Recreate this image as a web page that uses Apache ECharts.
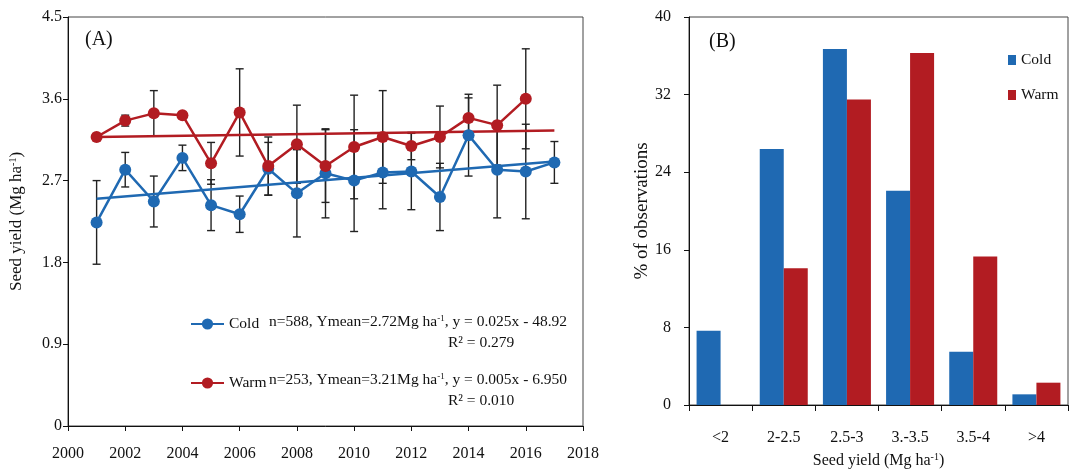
<!DOCTYPE html>
<html>
<head>
<meta charset="utf-8">
<script src="https://cdn.jsdelivr.net/npm/echarts@6/dist/echarts.min.js"></script>
<style>
html,body{margin:0;padding:0;background:#fff;}
#c{width:1073px;height:471px;}
</style>
</head>
<body>
<div id="c"></div>
<script>
// ---- Panel A data ----
const years = [2001,2002,2003,2004,2005,2006,2007,2008,2009,2010,2011,2012,2013,2014,2015,2016,2017];
const coldMean = [2.24,2.82,2.47,2.95,2.43,2.33,2.83,2.56,2.78,2.70,2.79,2.80,2.52,3.20,2.82,2.80,2.90];
const coldErr  = [0.46,0.19,0.28,0.14,0.28,0.20,0.29,0.48,0.49,0.56,0.40,0.42,0.37,0.45,0.53,0.52,0.23];
const warmYears = [2001,2002,2003,2004,2005,2006,2007,2008,2009,2010,2011,2012,2013,2014,2015,2016];
const warmMean = [3.18,3.36,3.44,3.42,2.89,3.45,2.86,3.10,2.86,3.07,3.18,3.08,3.18,3.39,3.31,3.60];
const warmErr  = [0.02,0.06,0.25,0.02,0.23,0.48,0.32,0.43,0.40,0.57,0.51,0.15,0.34,0.22,0.44,0.55];
const coldTrendX = [2001,2017];
const coldTrendY = [2.50,2.91];
const warmTrendX = [2001,2017];
const warmTrendY = [3.18,3.25];
const yTicksA = [0,0.9,1.8,2.7,3.6,4.5];
// ---- Panel B data ----
const binLabels = ['<2','2-2.5','2.5-3','3.-3.5','3.5-4','>4'];
const coldPct = [7.65,26.4,36.7,22.1,5.5,1.1];
const warmPct = [0,14.1,31.5,36.3,15.3,2.3];

const BLUE = '#1F69B2';
const RED = '#B21C22';
const FONT = 'Liberation Serif';

const chart = echarts.init(document.getElementById('c'));

function errItem(){
  return function(params, api){
    const x = api.value(0), y = api.value(1), e = api.value(2);
    const t = api.coord([x, y+e]);
    const b = api.coord([x, y-e]);
    const w = 4;
    const st = {stroke:'#222', lineWidth:1.4};
    return {type:'group', children:[
      {type:'line', shape:{x1:t[0],y1:t[1],x2:b[0],y2:b[1]}, style:st},
      {type:'line', shape:{x1:t[0]-w,y1:t[1],x2:t[0]+w,y2:t[1]}, style:st},
      {type:'line', shape:{x1:b[0]-w,y1:b[1],x2:b[0]+w,y2:b[1]}, style:st}
    ]};
  };
}

const supRich = {
  sup:{fontSize:10, verticalAlign:'top', padding:[0,0,7,0], fontFamily:FONT, color:'#111'}
};

const axisCommon = {
  axisLine:{show:true, lineStyle:{color:'#111', width:1}},
  axisTick:{show:true, inside:false, length:5, lineStyle:{color:'#111'}},
  splitLine:{show:false},
  axisLabel:{fontFamily:FONT, fontSize:16, color:'#111'}
};

const option = {
  animation:false,
  textStyle:{fontFamily:FONT},
  grid:[
    {left:68, top:17, width:515, height:409, show:true, borderColor:'#444', borderWidth:1,
     backgroundColor:'transparent', containLabel:false, outerBoundsMode:'none'},
    {left:689, top:17, width:379, height:388, show:true, borderColor:'#444', borderWidth:1,
     backgroundColor:'transparent', containLabel:false, outerBoundsMode:'none'}
  ],
  xAxis:[
    Object.assign({}, axisCommon, {
      type:'value', gridIndex:0, min:2000, max:2018, interval:2,
      axisLabel:Object.assign({}, axisCommon.axisLabel, {margin:20, formatter:v=>String(v)})
    }),
    Object.assign({}, axisCommon, {
      type:'category', gridIndex:1, data:binLabels,
      axisTick:{show:true, length:6, lineStyle:{color:'#111'}},
      axisLabel:Object.assign({}, axisCommon.axisLabel, {margin:25}),
      name:'Seed yield (Mg ha{sup|-1})', nameLocation:'middle', nameGap:47,
      nameTextStyle:{fontFamily:FONT, fontSize:16, color:'#111', rich:supRich}
    })
  ],
  yAxis:[
    Object.assign({}, axisCommon, {
      type:'value', gridIndex:0, min:0, max:4.5, interval:0.9,
      axisLabel:Object.assign({}, axisCommon.axisLabel, {margin:6, formatter:v=>{
        const s = yTicksA.find(t=>Math.abs(t-v)<1e-6); return s===undefined? '' : String(s);}}),
      name:'Seed yield (Mg ha{sup|-1})', nameLocation:'middle', nameGap:43,
      nameTextStyle:{fontFamily:FONT, fontSize:17, color:'#111', rich:supRich}
    }),
    Object.assign({}, axisCommon, {
      type:'value', gridIndex:1, min:0, max:40, interval:8,
      axisLabel:Object.assign({}, axisCommon.axisLabel, {margin:18}),
      name:'% of observations', nameLocation:'middle', nameGap:35,
      nameTextStyle:{fontFamily:FONT, fontSize:19, color:'#111'}
    })
  ],
  legend:[
    {
      data:['Cold','Warm'], orient:'vertical', left:190, top:316, padding:0,
      itemWidth:33, itemHeight:14, itemGap:43,
      textStyle:{fontFamily:FONT, fontSize:15.5, color:'#111'},
      selectedMode:false
    },
    {
      data:['Cold (B)','Warm (B)'], orient:'vertical', left:1008, top:52, padding:0,
      itemWidth:8, itemHeight:10, itemGap:19, icon:'rect',
      formatter:n=>n.replace(' (B)',''),
      textStyle:{fontFamily:FONT, fontSize:15.5, color:'#111'},
      selectedMode:false
    }
  ],
  graphic:[
    {type:'text', left:85, top:30, style:{text:'(A)', font:'20px "Liberation Serif"', fill:'#111'}},
    {type:'text', left:709, top:32, style:{text:'(B)', font:'20px "Liberation Serif"', fill:'#111'}},
    {type:'text', left:269, top:314, style:{
      text:'n=588, Ymean=2.72Mg ha{sup|-1}, y = 0.025x - 48.92',
      font:'15.5px "Liberation Serif"', fill:'#111',
      rich:{sup:{fontSize:9, verticalAlign:'top', padding:[0,0,6,0], fontFamily:FONT, fill:'#111'}}}},
    {type:'text', left:448, top:335, style:{text:'R² = 0.279', font:'15.5px "Liberation Serif"', fill:'#111'}},
    {type:'text', left:269, top:372, style:{
      text:'n=253, Ymean=3.21Mg ha{sup|-1}, y = 0.005x - 6.950',
      font:'15.5px "Liberation Serif"', fill:'#111',
      rich:{sup:{fontSize:9, verticalAlign:'top', padding:[0,0,6,0], fontFamily:FONT, fill:'#111'}}}},
    {type:'text', left:448, top:393, style:{text:'R² = 0.010', font:'15.5px "Liberation Serif"', fill:'#111'}}
  ],
  series:[
    {type:'custom', name:'coldErr', xAxisIndex:0, yAxisIndex:0, z:1,
     renderItem:errItem(), encode:{x:0,y:1},
     data:years.map((y,i)=>[y,coldMean[i],coldErr[i]])},
    {type:'custom', name:'warmErr', xAxisIndex:0, yAxisIndex:0, z:1,
     renderItem:errItem(), encode:{x:0,y:1},
     data:warmYears.map((y,i)=>[y,warmMean[i],warmErr[i]])},
    {type:'line', name:'coldTrend', xAxisIndex:0, yAxisIndex:0, z:2, symbol:'none',
     lineStyle:{color:BLUE, width:2.5}, data:coldTrendX.map((x,i)=>[x,coldTrendY[i]])},
    {type:'line', name:'warmTrend', xAxisIndex:0, yAxisIndex:0, z:2, symbol:'none',
     lineStyle:{color:RED, width:2.5}, data:warmTrendX.map((x,i)=>[x,warmTrendY[i]])},
    {type:'line', name:'Cold', xAxisIndex:0, yAxisIndex:0, z:3, symbol:'circle', symbolSize:12,
     itemStyle:{color:BLUE}, lineStyle:{color:BLUE, width:2.5},
     data:years.map((y,i)=>[y,coldMean[i]])},
    {type:'line', name:'Warm', xAxisIndex:0, yAxisIndex:0, z:3, symbol:'circle', symbolSize:12,
     itemStyle:{color:RED}, lineStyle:{color:RED, width:2.5},
     data:warmYears.map((y,i)=>[y,warmMean[i]])},
    {type:'bar', name:'Cold (B)', xAxisIndex:1, yAxisIndex:1, data:coldPct,
     itemStyle:{color:BLUE}, barGap:'0%', barCategoryGap:'24%'},
    {type:'bar', name:'Warm (B)', xAxisIndex:1, yAxisIndex:1, data:warmPct,
     itemStyle:{color:RED}, barGap:'0%', barCategoryGap:'24%'}
  ]
};
chart.setOption(option);
</script>
</body>
</html>
